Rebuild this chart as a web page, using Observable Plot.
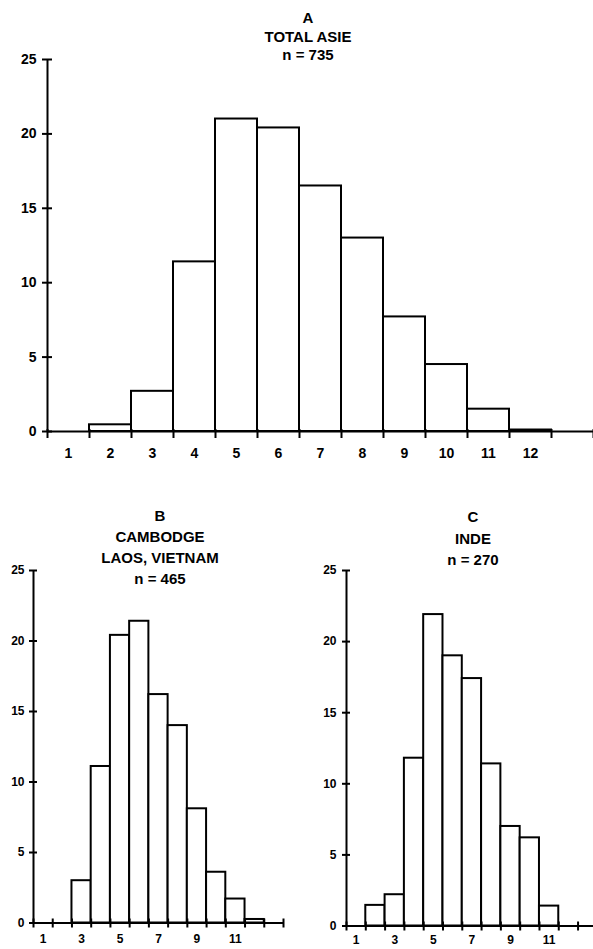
<!DOCTYPE html>
<html>
<head>
<meta charset="utf-8">
<script src="https://cdn.jsdelivr.net/npm/d3@7"></script>
<script src="https://cdn.jsdelivr.net/npm/@observablehq/plot@0.6"></script>
<style>
  html, body { margin: 0; padding: 0; background: #fff; overflow: hidden; }
  #wrap { position: relative; width: 593px; height: 949px; overflow: hidden; font-family: "Liberation Sans", Arial, sans-serif; }
  .panel { position: absolute; }
  .title { position: absolute; text-align: center; font-weight: bold; color: #000; white-space: nowrap; }
</style>
</head>
<body>
<div id="wrap"></div>
<script>
// ---- data ----
const bins = [1, 2, 3, 4, 5, 6, 7, 8, 9, 10, 11, 12, 13];
const valuesA = [0, 0.45, 2.7, 11.4, 21.0, 20.4, 16.5, 13.0, 7.7, 4.5, 1.5, 0.1, 0];
const valuesB = [0, 0, 3.0, 11.1, 20.4, 21.4, 16.2, 14.0, 8.1, 3.6, 1.7, 0.25, 0];
const valuesC = [0, 1.45, 2.2, 11.8, 21.9, 19.0, 17.4, 11.4, 7.0, 6.2, 1.4, 0, 0];
const xLabelsA = [1, 2, 3, 4, 5, 6, 7, 8, 9, 10, 11, 12];
const xLabelsBC = [1, 3, 5, 7, 9, 11];
const yTicks = [0, 5, 10, 15, 20, 25];
const titleA = ["A", "TOTAL ASIE", "n = 735"];
const titleB = ["B", "CAMBODGE", "LAOS, VIETNAM", "n = 465"];
const titleC = ["C", "INDE", "n = 270"];

const wrap = document.getElementById("wrap");

function histogram(values, xLabels, o) {
  const data = bins.map((b, i) => ({bin: b, value: values[i]})).filter(d => d.value > 0);
  const edges = bins.map(b => b - 0.5).concat([bins[bins.length - 1] + 0.5]);
  const x0 = 0.5, x1 = o.xMax;
  return Plot.plot({
    width: o.width,
    height: o.height,
    marginLeft: o.ml,
    marginRight: o.mr,
    marginTop: o.mt,
    marginBottom: o.mb,
    style: {fontFamily: "'Liberation Sans', Arial, sans-serif", fontWeight: "bold", fontSize: o.fs + "px", color: "#000", background: "#fff", overflow: "visible"},
    x: {domain: [x0, x1], axis: null},
    y: {domain: [0, 25], axis: null},
    marks: [
      Plot.rect(data, {x1: d => d.bin - 0.5, x2: d => d.bin + 0.5, y1: 0, y2: "value", fill: "#fff", stroke: "#000", strokeWidth: o.sw}),
      Plot.ruleY([0], {x1: x0, x2: x1, stroke: "#000", strokeWidth: o.aw}),
      Plot.ruleX([x0], {y1: 0, y2: 25, stroke: "#000", strokeWidth: o.aw}),
      Plot.ruleX(edges, {y1: 0, y2: 0, insetTop: -o.tu, insetBottom: -o.td, stroke: "#000", strokeWidth: o.aw}),
      Plot.ruleY(yTicks, {x1: x0, x2: x0, insetLeft: -o.yt, insetRight: -o.yt, stroke: "#000", strokeWidth: o.aw}),
      Plot.axisY({ticks: yTicks, tickSize: 0, tickPadding: o.yp, anchor: "left", label: null, fontSize: o.fs, fontWeight: "bold"}),
      Plot.axisX({ticks: xLabels, tickSize: 0, tickPadding: o.xp, anchor: "bottom", label: null, tickFormat: d => String(d), fontSize: o.fs, fontWeight: "bold"})
    ]
  });
}

function place(el, left, top) {
  el.classList.add("panel");
  el.style.left = left + "px";
  el.style.top = top + "px";
  wrap.appendChild(el);
}

function title(lines, cx, top, fs, lh) {
  const d = document.createElement("div");
  d.className = "title";
  d.style.left = (cx - 150) + "px";
  d.style.width = "300px";
  d.style.top = top + "px";
  d.style.fontSize = fs + "px";
  d.style.lineHeight = lh + "px";
  d.innerHTML = lines.map(t => t.replace(/&/g, "&amp;").replace(/</g, "&lt;")).join("<br>");
  wrap.appendChild(d);
}

place(histogram(valuesA, xLabelsA, {width: 593, height: 475, ml: 47, mr: 0, mt: 59, mb: 44, xMax: 13.5, sw: 2, aw: 2, tu: 2, td: 7, yt: 5, yp: 11, xp: 17, fs: 14}), 0, 0);
place(histogram(valuesB, xLabelsBC, {width: 300, height: 449, ml: 33, mr: 17, mt: 70, mb: 26.5, xMax: 13.5, sw: 2, aw: 2, tu: 4, td: 5, yt: 4, yp: 9, xp: 11, fs: 12}), 0, 500);
place(histogram(valuesC, xLabelsBC, {width: 293, height: 449, ml: 46, mr: 0, mt: 70, mb: 23.5, xMax: 13.3, sw: 2, aw: 2, tu: 4, td: 5, yt: 4, yp: 10, xp: 9, fs: 12}), 300, 500);

title(titleA, 308, 9, 15, 18.5);
title(titleB, 160, 505, 15, 21);
title(titleC, 473, 506, 15, 21.5);
</script>
</body>
</html>
